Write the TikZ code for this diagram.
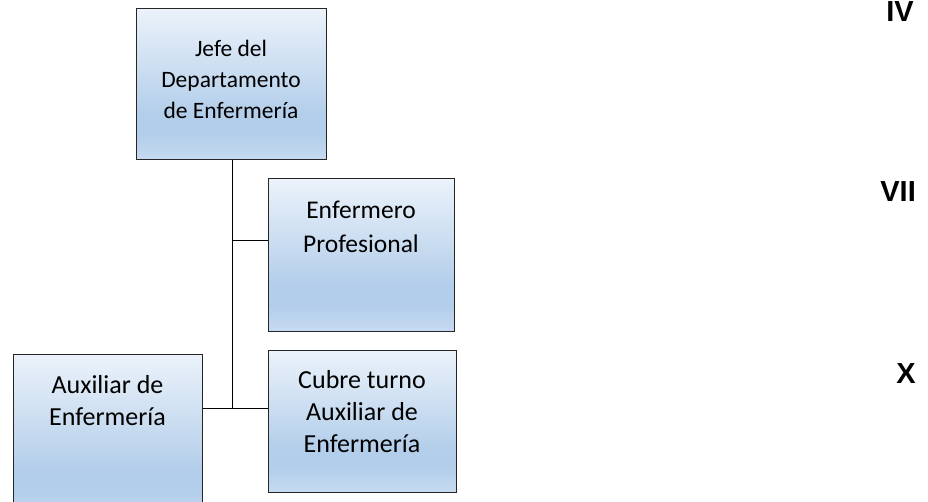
\documentclass[tikz,border=0pt]{standalone}
\usepackage{fontspec}
\setmainfont{Carlito}
\newfontfamily\numfont{Liberation Sans}
\definecolor{shA}{HTML}{C6DAF0}
\definecolor{shB}{HTML}{B3CEEA}
\definecolor{shC}{HTML}{EBF2FA}
\definecolor{edge}{HTML}{262626}
\pgfdeclareverticalshading{boxshade}{100bp}{color(0bp)=(shA); color(25bp)=(shA); color(33.5bp)=(shB); color(40bp)=(shB); color(75bp)=(shC); color(100bp)=(shC)}
\tikzset{
  orgbox/.style={draw=edge, line width=1pt, shading=boxshade, rectangle, inner sep=0pt},
  lbl/.style={align=center, font=\fontsize{23.5}{31}\selectfont, inner sep=0pt},
  lblbig/.style={align=center, font=\fontsize{26}{32}\selectfont, inner sep=0pt},
  roman/.style={font=\numfont\bfseries\fontsize{29}{30}\selectfont, anchor=base east, inner sep=0pt},
  conn/.style={draw=black, line width=0.9pt}
}
\begin{document}
\begin{tikzpicture}[x=1pt,y=-1pt]
\useasboundingbox (0,0) rectangle (928,502);
\clip (0,0) rectangle (928,502);
\node[orgbox, minimum width=190pt, minimum height=151pt] (jefe) at (231,84.5) {};
\node[orgbox, minimum width=186pt, minimum height=152pt] (prof) at (361,255) {};
\node[orgbox, minimum width=189pt, minimum height=166pt] (aux) at (107.5,437) {};
\node[orgbox, minimum width=188pt, minimum height=142pt] (cubre) at (362,421) {};
\node[lbl] (tjefe) at (231,79) {Jefe del\\Departamento\\de Enfermería};
\node[lblbig, font=\fontsize{25.5}{34}\selectfont] (tprof) at (361,227) {Enfermero\\Profesional};
\node[lblbig] (taux) at (107.5,401) {Auxiliar de\\Enfermería};
\node[lblbig] (tcubre) at (362,412) {Cubre turno\\Auxiliar de\\Enfermería};
\coordinate (j1) at (232,240);
\coordinate (j2) at (232,408);
\draw[conn] (jefe.south -| j1) -- (j2);
\draw[conn] (j1) -- (j1 -| prof.west);
\draw[conn] (aux.east |- j2) -- (cubre.west |- j2);
\node[roman] (r4) at (914,22) {IV};
\node[roman] (r7) at (916,202) {VII};
\node[roman] (r10) at (916,383) {X};
\end{tikzpicture}
\end{document}
